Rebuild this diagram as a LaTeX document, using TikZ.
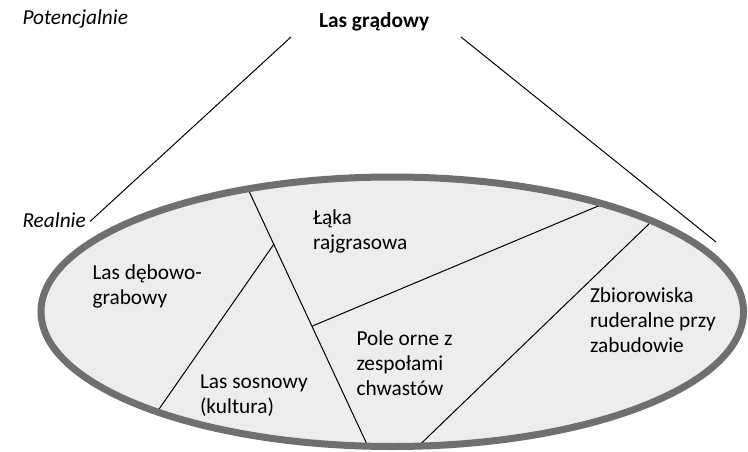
\documentclass[tikz,border=0pt]{standalone}
\usepackage{fontspec}
\setmainfont{Carlito}
\definecolor{ringgray}{RGB}{110,111,114}
\definecolor{fillgray}{RGB}{237,237,237}
\tikzset{
  lbl/.style={anchor=base west, inner sep=0pt, outer sep=0pt, font=\fontsize{16}{18.75}\selectfont},
  thin line/.style={draw=black, line width=0.75pt},
}
\begin{document}
\begin{tikzpicture}[x=0.75pt, y=-0.75pt]
\useasboundingbox (0,0) rectangle (748,452);
% ellipse fill
\fill[fillgray] (392.25,311.75) ellipse [x radius=351.25, y radius=134.75];
% coordinates
\coordinate (A1) at (248,189);
\coordinate (A2) at (368,446.5);
\coordinate (B1) at (274,244);
\coordinate (B2) at (157,412);
\coordinate (C1) at (603,204);
\coordinate (C2) at (312.5,326);
\coordinate (D1) at (652,221);
\coordinate (D2) at (418,446.5);
\coordinate (L1) at (291,37);
\coordinate (L2) at (90,221.5);
\coordinate (R1) at (461,37);
\coordinate (R2) at (716,242);
% division lines
\draw[thin line] (A1) -- (A2);
\draw[thin line] (B1) -- (B2);
\draw[thin line] (C2) -- (C1);
\draw[thin line] (D1) -- (D2);
% ellipse ring
\draw[ringgray, line width=5.25pt] (392.25,311.75) ellipse [x radius=351.25, y radius=134.75];
% funnel lines
\draw[thin line] (L1) -- (L2);
\draw[thin line] (R1) -- (R2);
% labels
\node[lbl] (pot) at (22.5,25) {\itshape Potencjalnie};
\node[lbl] (real) at (22.5,227) {\itshape Realnie};
\node[lbl] (grad) at (319,27.5) {\bfseries Las grądowy};
\node[lbl] (laka) at (313,224) {\begin{tabular}[t]{@{}l@{}}Łąka\\rajgrasowa\end{tabular}};
\node[lbl] (deb) at (92.5,279) {\begin{tabular}[t]{@{}l@{}}Las dębowo-\\grabowy\end{tabular}};
\node[lbl] (sos) at (200,388) {\begin{tabular}[t]{@{}l@{}}Las sosnowy\\(kultura)\end{tabular}};
\node[lbl] (pole) at (356.5,345) {\begin{tabular}[t]{@{}l@{}}Pole orne z\\zespołami\\chwastów\end{tabular}};
\node[lbl] (zbior) at (590,302) {\begin{tabular}[t]{@{}l@{}}Zbiorowiska\\ruderalne przy\\zabudowie\end{tabular}};
\end{tikzpicture}
\end{document}
